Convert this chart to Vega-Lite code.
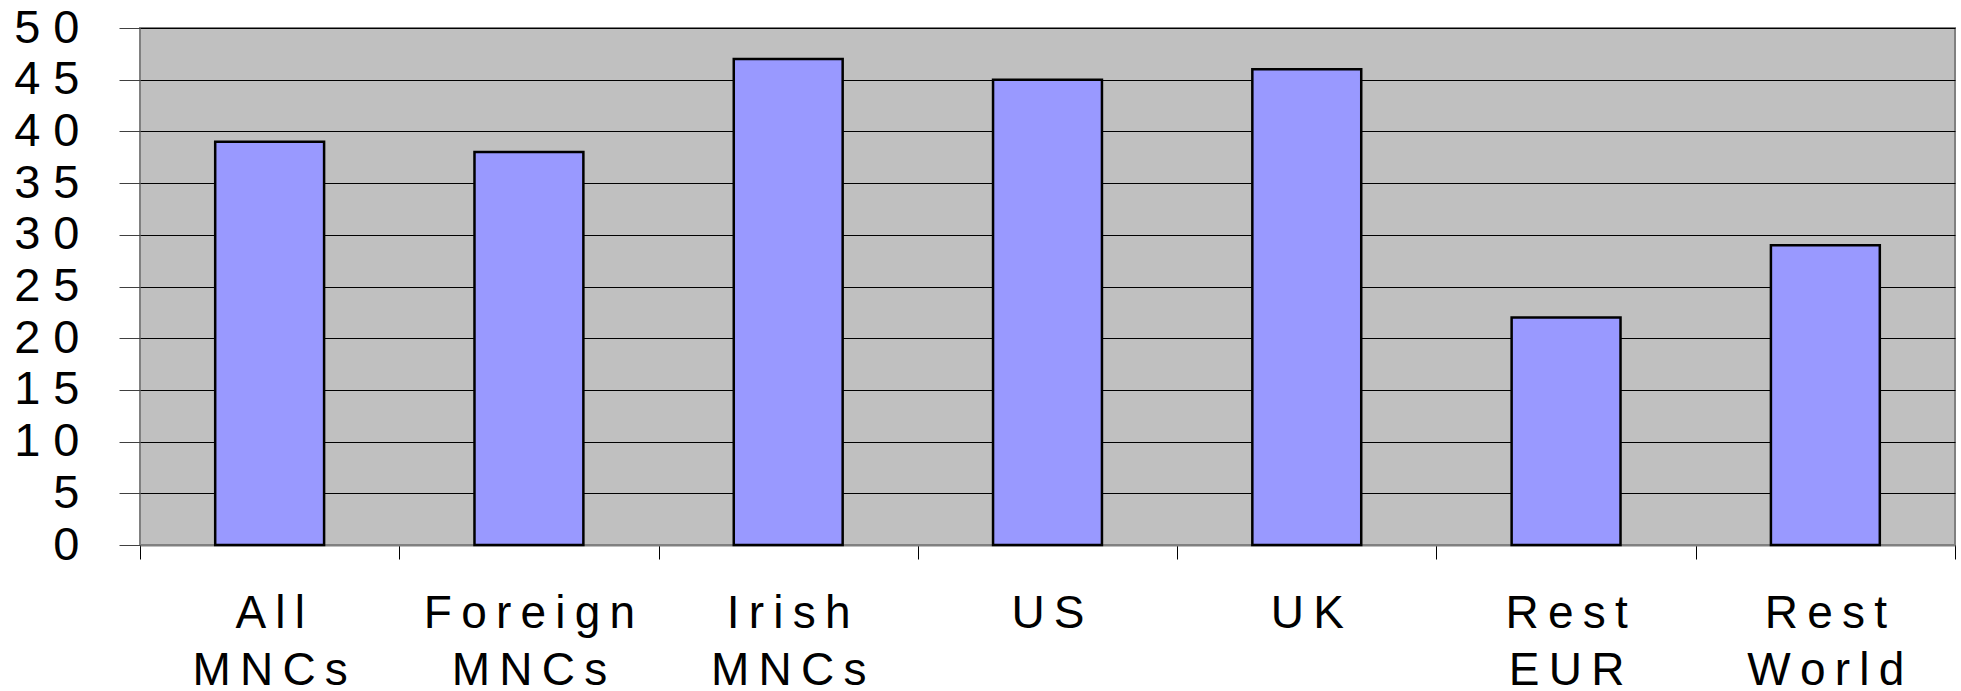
{
  "$schema": "https://vega.github.io/schema/vega-lite/v6.json",
  "autosize": {"type": "none"},
  "padding": {"left": 140, "top": 28, "right": 6, "bottom": 146},
  "width": 1815,
  "height": 517,
  "background": "#ffffff",
  "view": {"fill": "#c0c0c0", "stroke": "#808080", "strokeWidth": 2},
  "data": {
    "values": [
      {"group": "All MNCs", "value": 39},
      {"group": "Foreign MNCs", "value": 38},
      {"group": "Irish MNCs", "value": 47},
      {"group": "US", "value": 45},
      {"group": "UK", "value": 46},
      {"group": "Rest EUR", "value": 22},
      {"group": "Rest World", "value": 29}
    ]
  },
  "mark": {"type": "bar", "fill": "#9999ff", "stroke": "#000000", "strokeWidth": 2.5, "width": {"band": 0.42}},
  "encoding": {
    "x": {
      "field": "group",
      "type": "nominal",
      "sort": null,
      "scale": {"paddingInner": 0, "paddingOuter": 0},
      "axis": {
        "title": null,
        "labelAngle": 0,
        "labelFont": "Liberation Sans",
        "labelFontSize": 46,
        "labelColor": "#000000",
        "labelLineHeight": 57,
        "labelPadding": 32,
        "labelBaseline": "top",
        "labelLimit": 0,
        "labelExpr": "[join(split(split(datum.label, ' ')[0], ''), '\u2009'), join(split(split(datum.label, ' ')[1] || '', ''), '\u2009')]",
        "tickBand": "extent",
        "tickSize": 14,
        "tickColor": "#000000",
        "tickWidth": 1,
        "domainColor": "#808080",
        "domainWidth": 2,
        "grid": false
      }
    },
    "y": {
      "field": "value",
      "type": "quantitative",
      "scale": {"domain": [0, 50], "nice": false},
      "axis": {
        "title": null,
        "values": [0, 5, 10, 15, 20, 25, 30, 35, 40, 45, 50],
        "labelFont": "Liberation Sans",
        "labelFontSize": 47,
        "labelColor": "#000000",
        "labelPadding": 40,
        "labelExpr": "join(split(datum.label, ''), ' ')",
        "tickSize": 21,
        "tickColor": "#404040",
        "tickWidth": 1,
        "domain": false,
        "grid": true,
        "gridColor": "#000000",
        "gridWidth": 1,
        "gridOpacity": 1
      }
    }
  }
}
